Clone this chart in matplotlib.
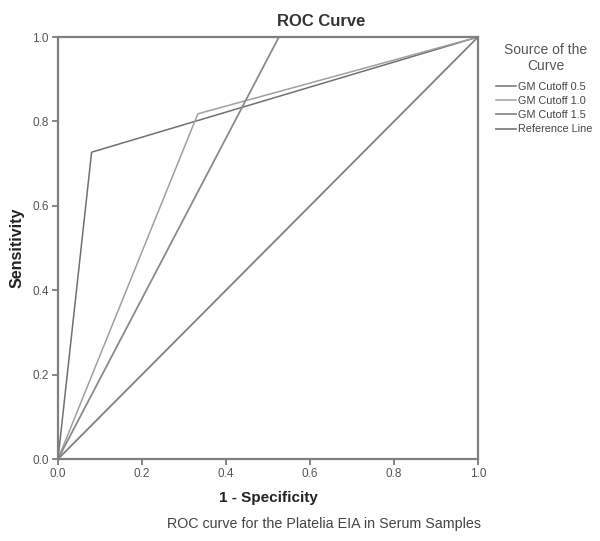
import matplotlib
matplotlib.use('Agg')
import matplotlib.pyplot as plt

plt.rcParams['font.family'] = ['Liberation Sans', 'DejaVu Sans']

# ROC points (1 - specificity, sensitivity)
cut05_x = [0.0, 0.08, 1.0]
cut05_y = [0.0, 0.727, 1.0]
cut10_x = [0.0, 0.333, 1.0]
cut10_y = [0.0, 0.818, 1.0]
cut15_x = [0.0, 0.526, 1.0]
cut15_y = [0.0, 1.0, 1.0]
ref_x = [0.0, 1.0]
ref_y = [0.0, 1.0]

ticks = [0.0, 0.2, 0.4, 0.6, 0.8, 1.0]
tick_labels = ['0.0', '0.2', '0.4', '0.6', '0.8', '1.0']

fig = plt.figure(figsize=(6, 5.41), dpi=100)
ax = fig.add_axes([58/600, 82/541, 420/600, 422/541])

l1, = ax.plot(cut05_x, cut05_y, color='#707070', linewidth=1.1, label='GM Cutoff 0.5')
l2, = ax.plot(cut10_x, cut10_y, color='#a0a0a0', linewidth=1.1, label='GM Cutoff 1.0')
l3, = ax.plot(cut15_x, cut15_y, color='#8a8a8a', linewidth=1.3, label='GM Cutoff 1.5')
l4, = ax.plot(ref_x, ref_y, color='#808080', linewidth=1.3, label='Reference Line')

ax.set_xlim(0, 1)
ax.set_ylim(0, 1)
ax.set_xticks(ticks)
ax.set_xticklabels(tick_labels)
ax.set_yticks(ticks)
ax.set_yticklabels(tick_labels)
ax.tick_params(direction='out', length=4.5, width=1.2, pad=2, color='#707070',
               labelcolor='#555555', labelsize=8.5)

for s in ax.spines.values():
    s.set_color('#808080')
    s.set_linewidth(1.6)

fig.text(321/600, 1 - 21/541, 'ROC Curve', ha='center', va='center',
         fontsize=12, fontweight='bold', color='#333333')
ax.set_xlabel('1 - Specificity', fontsize=11, fontweight='bold', color='#222222', labelpad=8)
ax.set_ylabel('Sensitivity', fontsize=11.5, fontweight='bold', color='#222222', labelpad=6)

# legend title drawn separately (SPSS leaves a gap under it)
fig.text(546/600, 1 - 58/541, 'Source of the\nCurve', ha='center', va='center',
         fontsize=10, color='#555555', multialignment='center', linespacing=1.1)

leg = fig.legend(handles=[l1, l2, l3, l4], loc='upper left',
                 bbox_to_anchor=(496/600, 1 - 82/541), frameon=False,
                 fontsize=7.8, handlelength=1.8, handletextpad=0.25,
                 labelspacing=0.38, borderaxespad=0, borderpad=0)
for t in leg.get_texts():
    t.set_color('#444444')

fig.text(324/600, 1 - 524/541, 'ROC curve for the Platelia EIA in Serum Samples',
         ha='center', va='center', fontsize=10.3, color='#444444')

fig.savefig('out.png', dpi=100)
